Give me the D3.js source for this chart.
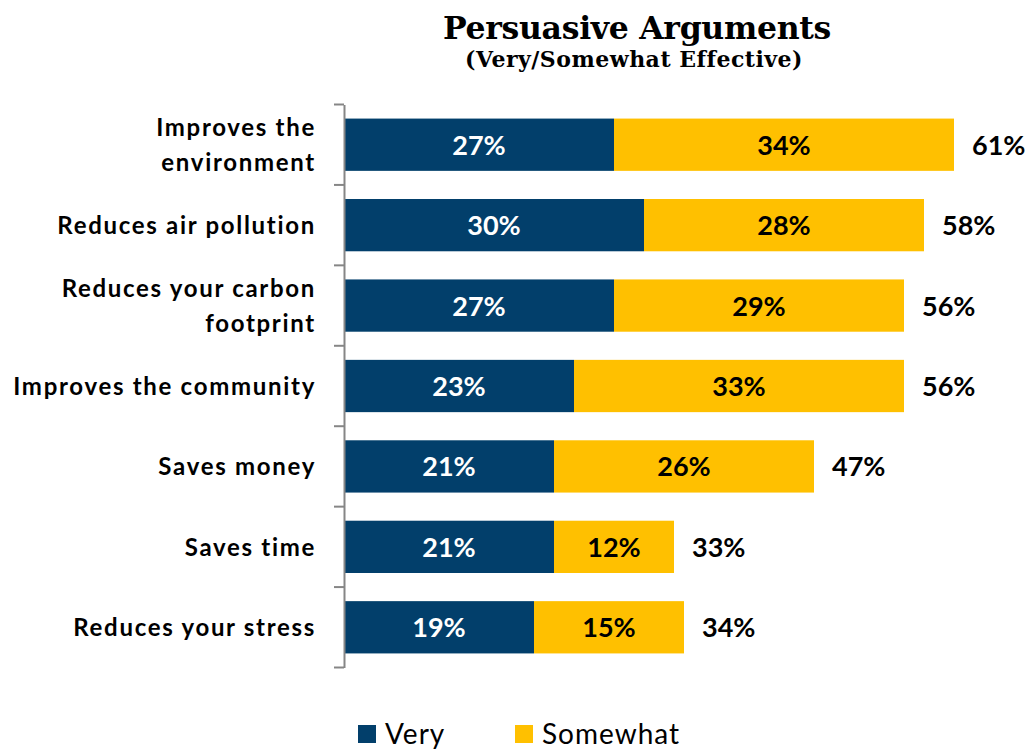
<!DOCTYPE html>
<html>
<head>
<meta charset="utf-8">
<script src="https://cdn.jsdelivr.net/npm/d3@7"></script>
<style>
  html, body { margin: 0; padding: 0; background: #fff; }
  svg { display: block; }
</style>
</head>
<body>
<svg id="chart" width="1027" height="750"></svg>
<script>
// Persuasive arguments: share rating each one very / somewhat effective
const categories = [
  ["Improves the", "environment"],
  ["Reduces air pollution"],
  ["Reduces your carbon", "footprint"],
  ["Improves the community"],
  ["Saves money"],
  ["Saves time"],
  ["Reduces your stress"]
];
const veryValues     = [27, 30, 27, 23, 21, 21, 19];
const somewhatValues = [34, 28, 29, 33, 26, 12, 15];
const totalValues    = [61, 58, 56, 56, 47, 33, 34];
const seriesNames = ["Very", "Somewhat"];
const seriesColors = ["#023F6B", "#FFC000"];

const svg = d3.select("#chart");
const sansFont = "Lato, 'Open Sans', sans-serif";
const serifFont = "'DejaVu Serif', 'Liberation Serif', serif";

const keys = categories.map((c, i) => i);
const rows = keys.map(i => ({ idx: i, Very: veryValues[i], Somewhat: somewhatValues[i], total: totalValues[i] }));

const x = d3.scaleLinear().domain([0, 70]).range([344, 1044]);
const pIn = 0.35;
const y = d3.scaleBand().domain(keys).range([104.5, 667.5])
  .paddingInner(pIn).paddingOuter(pIn / 2);

// Title
svg.append("text")
  .attr("x", 637).attr("y", 39)
  .attr("text-anchor", "middle")
  .attr("font-family", serifFont).attr("font-weight", "bold")
  .attr("font-size", 31.5)
  .attr("letter-spacing", -0.3)
  .attr("fill", "#000")
  .text("Persuasive Arguments");
svg.append("text")
  .attr("x", 634).attr("y", 67)
  .attr("text-anchor", "middle")
  .attr("font-family", serifFont).attr("font-weight", "bold")
  .attr("font-size", 22)
  .attr("letter-spacing", 0.5)
  .attr("fill", "#000")
  .text("(Very/Somewhat Effective)");

// Stacked bars
const stack = d3.stack().keys(seriesNames);
const layers = stack(rows);
const color = d3.scaleOrdinal().domain(seriesNames).range(seriesColors);

svg.append("g").selectAll("g")
  .data(layers).join("g")
  .attr("fill", d => color(d.key))
  .selectAll("rect")
  .data(d => d).join("rect")
  .attr("x", d => x(d[0]))
  .attr("y", d => y(d.data.idx))
  .attr("width", d => x(d[1]) - x(d[0]))
  .attr("height", y.bandwidth());

// Segment value labels
svg.append("g").selectAll("g")
  .data(layers).join("g")
  .attr("fill", d => d.key === "Very" ? "#fff" : "#000")
  .selectAll("text")
  .data(d => d).join("text")
  .attr("x", d => (x(d[0]) + x(d[1])) / 2)
  .attr("y", d => y(d.data.idx) + y.bandwidth() / 2 + 10)
  .attr("text-anchor", "middle")
  .attr("font-family", sansFont).attr("font-weight", "bold")
  .attr("font-size", 27)
  .text(d => (d[1] - d[0]) + "%");

// Totals
svg.append("g").selectAll("text")
  .data(rows).join("text")
  .attr("x", d => x(d.Very + d.Somewhat) + 18)
  .attr("y", d => y(d.idx) + y.bandwidth() / 2 + 10)
  .attr("font-family", sansFont).attr("font-weight", "bold")
  .attr("font-size", 27)
  .attr("fill", "#000")
  .text(d => d.total + "%");

// Category axis: vertical line with ticks between categories
const axisG = svg.append("g").attr("transform", `translate(${x(0)},0)`)
  .call(d3.axisLeft(y).tickSize(0).tickFormat(""));
axisG.select(".domain").attr("stroke", "#868686").attr("stroke-width", 2);
const step = y.step();
const bounds = keys.map(k => y(k) - step * pIn / 2).concat([y(keys[keys.length - 1]) + y.bandwidth() + step * pIn / 2]);
axisG.selectAll(".bound").data(bounds).join("line")
  .attr("class", "bound")
  .attr("x1", -10).attr("x2", 0)
  .attr("y1", d => d).attr("y2", d => d)
  .attr("stroke", "#868686").attr("stroke-width", 2);

// Category labels
const labG = svg.append("g");
rows.forEach(r => {
  const lines = categories[r.idx];
  const cy = y(r.idx) + y.bandwidth() / 2;
  const lh = 35;
  const t = labG.append("text")
    .attr("text-anchor", "end")
    .attr("font-family", sansFont).attr("font-weight", "bold")
    .attr("font-size", 24)
    .attr("letter-spacing", 1.7)
    .attr("fill", "#000");
  lines.forEach((ln, j) => {
    t.append("tspan")
      .attr("x", 316)
      .attr("y", cy + 9 + (j - (lines.length - 1) / 2) * lh)
      .text(ln);
  });
});

// Legend
const legendX = [358, 515];
const leg = svg.append("g");
seriesNames.forEach((s, i) => {
  leg.append("rect")
    .attr("x", legendX[i]).attr("y", 725)
    .attr("width", 18).attr("height", 18)
    .attr("fill", color(s));
  leg.append("text")
    .attr("x", legendX[i] + 27).attr("y", 744)
    .attr("font-family", sansFont)
    .attr("font-size", 28)
    .attr("letter-spacing", 1)
    .attr("fill", "#000")
    .text(s);
});
</script>
</body>
</html>
